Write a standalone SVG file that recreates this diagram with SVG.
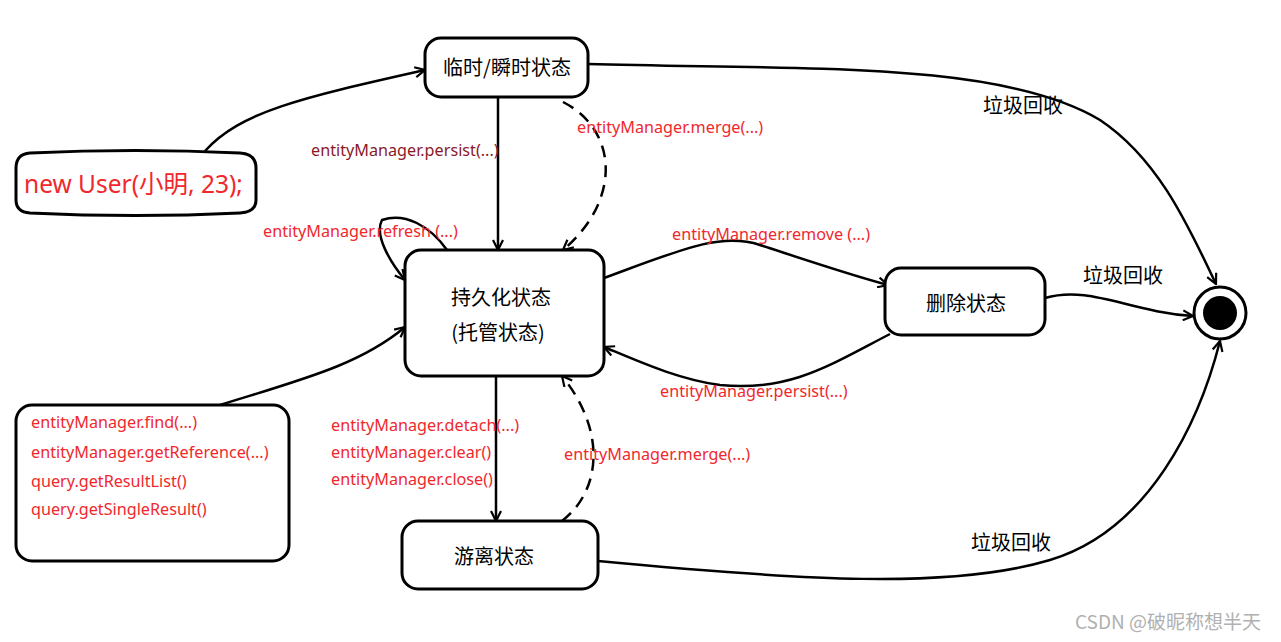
<svg xmlns="http://www.w3.org/2000/svg" width="1281" height="642" viewBox="0 0 1281 642">
<style>
.node{fill:#fff;stroke:#000;stroke-width:3}
.cn{font-family:"Noto Sans CJK SC","Microsoft YaHei",sans-serif;font-size:20px;fill:#000}
.lbl{font-family:"Noto Sans","Noto Sans CJK SC",sans-serif;font-size:16.2px;fill:#f0282d}
.edge{fill:none;stroke:#000;stroke-width:2.5;marker-end:url(#arr)}
.dash{stroke-dasharray:12 8}
</style>
<defs>
<marker id="arr" viewBox="0 0 12 12" refX="11" refY="6" markerWidth="12" markerHeight="12" markerUnits="userSpaceOnUse" orient="auto">
<path d="M1,1 L11,6 L1,11" fill="none" stroke="#000" stroke-width="2.2"/>
</marker>
</defs>
<rect width="1281" height="642" fill="#fff"/>
<g id="connectors">
<path class="edge" d="M205,151 C240,112 300,98 425,70"/>
<path class="edge" d="M498,97 L498,250"/>
<path class="edge dash" d="M563,102 C618,130 622,200 563,250"/>
<path class="edge" d="M447,250 C430,226 405,212 382,220 C374,235 390,262 405,280"/>
<path class="edge" d="M220,405 C300,380 360,365 405,327"/>
<path class="edge" d="M604,278 C680,250 720,232 760,245 C800,258 850,275 888,285"/>
<path class="edge" d="M890,334 C830,365 790,392 720,385 C680,380 640,362 604,347"/>
<path class="edge" d="M496,376 L496,521"/>
<path class="edge dash" d="M562,521 C602,490 606,430 562,376"/>
<path class="edge" d="M588,64 C800,70 1000,60 1100,120 C1160,160 1190,230 1216,284"/>
<path class="edge" d="M1045,298 C1090,285 1130,312 1193,316"/>
<path class="edge" d="M598,561 C800,580 950,590 1050,560 C1150,530 1200,420 1220,341"/>
</g>
<g id="node-transient">
<rect class="node" x="425" y="38" width="163" height="59" rx="16"/>
<text class="cn" x="507" y="75" text-anchor="middle">临时/瞬时状态</text>
</g>
<g id="node-newuser">
<path class="node" d="M30,153 Q135,148 240,153 Q256,154 256,168 L256,200 Q256,212 240,213 Q135,218 30,213 Q16,212 16,200 L16,168 Q16,154 30,153 Z"/>
<text x="24" y="193" style="font-family:'Noto Sans','Noto Sans CJK SC',sans-serif;font-size:24.5px;fill:#f0282d">new User(小明, 23);</text>
</g>
<g id="node-persistent">
<rect class="node" x="405" y="250" width="199" height="126" rx="16"/>
<text class="cn" x="501" y="305" text-anchor="middle">持久化状态</text>
<text class="cn" x="498" y="340" text-anchor="middle">(托管状态)</text>
</g>
<g id="node-removed">
<rect class="node" x="885" y="268" width="160" height="67" rx="16"/>
<text class="cn" x="966" y="311" text-anchor="middle">删除状态</text>
</g>
<g id="node-detached">
<rect class="node" x="402" y="521" width="196" height="68" rx="16"/>
<text class="cn" x="494" y="564" text-anchor="middle">游离状态</text>
</g>
<g id="node-query">
<rect class="node" x="16" y="405" width="273" height="156" rx="16"/>
<text class="lbl" x="31" y="428">entityManager.find(...)</text>
<text class="lbl" x="31" y="458">entityManager.getReference(...)</text>
<text class="lbl" x="31" y="487">query.getResultList()</text>
<text class="lbl" x="31" y="515">query.getSingleResult()</text>
</g>
<g id="node-final">
<circle cx="1220" cy="313" r="26" fill="#fff" stroke="#000" stroke-width="3"/>
<circle cx="1220" cy="313" r="17" fill="#000"/>
</g>
<g id="labels">
<text class="lbl" x="311" y="156" style="fill:#8a1a2a">entityManager.persist(...)</text>
<text class="lbl" x="577" y="133">entityManager.merge(...)</text>
<text class="lbl" x="263" y="237">entityManager.refresh (...)</text>
<text class="lbl" x="672" y="240">entityManager.remove (...)</text>
<text class="lbl" x="660" y="397">entityManager.persist(...)</text>
<text class="lbl" x="331" y="431">entityManager.detach(...)</text>
<text class="lbl" x="331" y="458">entityManager.clear()</text>
<text class="lbl" x="331" y="485">entityManager.close()</text>
<text class="lbl" x="564" y="460">entityManager.merge(...)</text>
<text class="cn" x="983" y="113">垃圾回收</text>
<text class="cn" x="1083" y="283">垃圾回收</text>
<text class="cn" x="971" y="550">垃圾回收</text>
<text x="1075" y="629" style="font-family:'Noto Sans CJK SC',sans-serif;font-size:19px;fill:#b0b0b0">CSDN @破昵称想半天</text>
</g>
</svg>
